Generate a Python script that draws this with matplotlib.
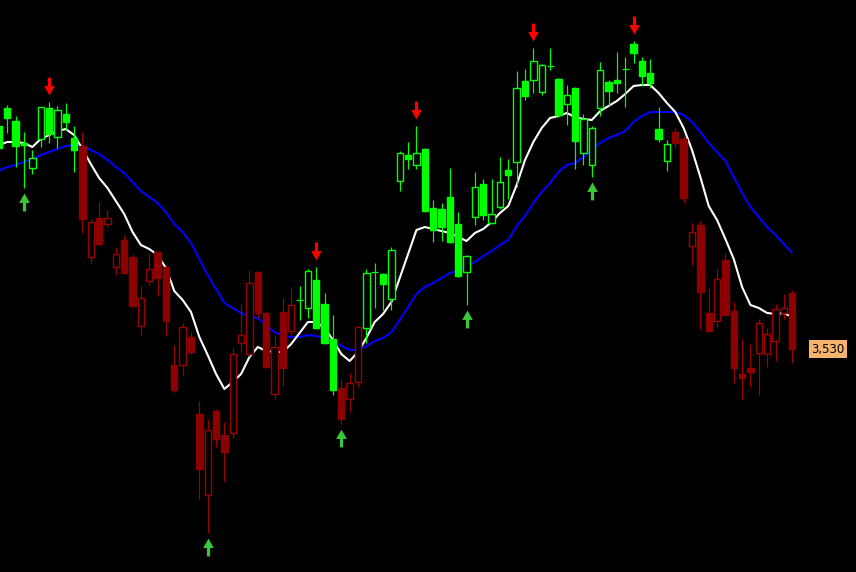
import matplotlib
matplotlib.use("Agg")
import matplotlib.pyplot as plt
from matplotlib.patches import Rectangle
from matplotlib.path import Path
import matplotlib.transforms as mtransforms

# ---------------- data (bar index starts at -1: first bar is partly off-screen)
first_bar = -1
opens = [3753, 3771, 3758, 3736, 3711, 3740, 3771, 3742, 3765, 3741,
         3733, 3622, 3661, 3655, 3612, 3639, 3622, 3553, 3598, 3627,
         3612, 3514, 3514, 3542, 3465, 3384, 3468, 3444, 3446, 3536,
         3525, 3607, 3566, 3485, 3567, 3548, 3579, 3571, 3599, 3575,
         3540, 3491, 3480, 3497, 3551, 3607, 3605, 3580, 3698, 3724,
         3714, 3730, 3671, 3670, 3682, 3655, 3607, 3662, 3695, 3656,
         3672, 3709, 3717, 3798, 3799, 3787, 3813, 3800, 3775, 3791,
         3726, 3714, 3771, 3797, 3799, 3810, 3835, 3818, 3806, 3750,
         3718, 3747, 3740, 3633, 3654, 3566, 3558, 3619, 3568, 3505,
         3511, 3526, 3525, 3538, 3566, 3586]
highs = [3755, 3774, 3763, 3747, 3729, 3772, 3777, 3773, 3776, 3753,
         3747, 3660, 3677, 3669, 3632, 3644, 3625, 3593, 3626, 3628,
         3613, 3534, 3556, 3547, 3478, 3460, 3470, 3457, 3531, 3575,
         3609, 3608, 3567, 3544, 3581, 3591, 3593, 3610, 3612, 3586,
         3564, 3500, 3506, 3553, 3610, 3616, 3606, 3632, 3728, 3737,
         3753, 3731, 3679, 3676, 3711, 3667, 3624, 3707, 3700, 3700,
         3722, 3720, 3808, 3810, 3831, 3815, 3831, 3801, 3794, 3792,
         3765, 3753, 3817, 3799, 3827, 3822, 3838, 3822, 3820, 3772,
         3739, 3751, 3743, 3656, 3658, 3591, 3610, 3626, 3577, 3540,
         3535, 3560, 3551, 3575, 3585, 3589]
lows = [3729, 3746, 3712, 3691, 3705, 3732, 3736, 3731, 3749, 3707,
        3646, 3616, 3634, 3652, 3604, 3605, 3572, 3544, 3594, 3583,
        3543, 3487, 3504, 3525, 3380, 3346, 3432, 3397, 3441, 3527,
        3523, 3561, 3511, 3480, 3493, 3544, 3559, 3561, 3550, 3535,
        3484, 3455, 3467, 3492, 3536, 3571, 3569, 3569, 3688, 3710,
        3710, 3667, 3637, 3638, 3636, 3602, 3574, 3654, 3659, 3655,
        3670, 3680, 3692, 3779, 3786, 3784, 3809, 3762, 3754, 3710,
        3714, 3702, 3763, 3773, 3786, 3772, 3816, 3793, 3791, 3737,
        3708, 3731, 3676, 3614, 3550, 3547, 3552, 3563, 3496, 3480,
        3492, 3484, 3512, 3518, 3560, 3516]
closes = [3731, 3761, 3733, 3734, 3721, 3772, 3745, 3769, 3757, 3729,
          3660, 3657, 3635, 3661, 3625, 3606, 3573, 3581, 3610, 3601,
          3558, 3489, 3552, 3527, 3410, 3449, 3440, 3427, 3525, 3544,
          3596, 3566, 3512, 3532, 3511, 3574, 3580, 3608, 3551, 3536,
          3489, 3460, 3496, 3552, 3606, 3608, 3595, 3629, 3726, 3720,
          3726, 3668, 3649, 3652, 3637, 3603, 3623, 3692, 3664, 3665,
          3697, 3704, 3791, 3783, 3818, 3814, 3814, 3764, 3784, 3738,
          3760, 3751, 3809, 3788, 3796, 3811, 3826, 3803, 3796, 3740,
          3735, 3736, 3681, 3647, 3587, 3548, 3600, 3564, 3511, 3501,
          3507, 3556, 3545, 3570, 3571, 3530]
# U = bar painted green (up-trend), D = bar painted red (down-trend)
trend = ("UUUUUUUUUU" "DDDDDDDDDDDDDDDDDDDDDDDDDD" "UUUUU" "DDD"
         "UUUUUUUUUUUUUUUUUUUUUUUUUUUUUUUUUUUUU" "DDDDDDDDDDDDDDD")
fast_ma = [3734, 3737, 3737, 3736, 3732, 3740, 3744, 3748, 3750, 3744,
           3730, 3715, 3701, 3691, 3678, 3665, 3647, 3634, 3630, 3624,
           3611, 3588, 3579, 3567, 3542, 3524, 3505, 3490, 3497, 3505,
           3522, 3532, 3528, 3527, 3527, 3535, 3546, 3557, 3557, 3551,
           3539, 3525, 3518, 3527, 3541, 3557, 3565, 3577, 3601, 3625,
           3649, 3652, 3650, 3648, 3646, 3642, 3638, 3646, 3650, 3657,
           3666, 3673, 3694, 3719, 3737, 3751, 3761, 3763, 3766, 3762,
           3760, 3759, 3768, 3773, 3778, 3785, 3793, 3794, 3794, 3786,
           3776, 3767, 3751, 3729, 3702, 3673, 3659, 3640, 3620, 3592,
           3574, 3571, 3566, 3565, 3566, 3562]
slow_ma = [3708, 3712, 3714, 3717, 3720, 3724, 3727, 3730, 3733, 3734,
           3733, 3729, 3725, 3719, 3712, 3706, 3697, 3688, 3682, 3676,
           3667, 3655, 3647, 3636, 3620, 3604, 3590, 3576, 3571, 3566,
           3562, 3561, 3554, 3547, 3543, 3542, 3542, 3544, 3543, 3541,
           3538, 3533, 3529, 3529, 3533, 3538, 3541, 3547, 3559, 3572,
           3585, 3592, 3596, 3601, 3606, 3608, 3613, 3617, 3623, 3628,
           3634, 3639, 3653, 3663, 3676, 3687, 3696, 3707, 3714, 3716,
           3722, 3729, 3736, 3741, 3744, 3748, 3757, 3763, 3767, 3767,
           3767, 3767, 3764, 3757, 3747, 3736, 3727, 3718, 3702, 3686,
           3672, 3662, 3652, 3644, 3635, 3626]
sell_bars = [5, 37, 49, 63, 75]
buy_bars = [2, 24, 40, 55, 70]

# ---------------- styling
BG = "black"
GREEN = "#00ff00"
RED_EDGE = "#9a0000"
RED_FILL = "#8c0000"
px = 0.72  # one pixel in points at dpi 100

fig = plt.figure(figsize=(8.56, 5.72), dpi=100, facecolor=BG)
ax = fig.add_axes([0, 0, 1, 1], facecolor=BG)
ax.set_xlim(-0.874, 101.64)
ax.set_ylim(3307, 3879)
ax.axis("off")

xs = [first_bar + k for k in range(len(closes))]

ax.plot(xs, slow_ma, color="#0000ff", lw=1.5, zorder=1, solid_capstyle="butt")
ax.plot(xs, fast_ma, color="white", lw=1.5, zorder=1, solid_capstyle="butt")

bw = 0.76
for x, o, h, l, c, t in zip(xs, opens, highs, lows, closes, trend):
    edge = GREEN if t == "U" else RED_EDGE
    fill = GREEN if t == "U" else RED_FILL
    ax.vlines(x, l, h, color=edge, lw=1.2 * px, zorder=2)
    if abs(c - o) <= 1:
        ax.hlines((o + c) / 2, x - 0.42, x + 0.42, color=edge,
                  lw=1.2 * px, zorder=3)
    elif c > o:
        ax.add_patch(Rectangle((x - bw / 2, o), bw, c - o, facecolor=BG,
                               edgecolor=edge, lw=1.4 * px, zorder=3))
    else:
        ax.add_patch(Rectangle((x - bw / 2, c), bw, o - c, facecolor=fill,
                               edgecolor=fill, lw=1.4 * px, zorder=3))

down_verts = [(-0.18, 1), (0.18, 1), (0.18, 0.05), (0.6, 0.05), (0, -1),
              (-0.6, 0.05), (-0.18, 0.05), (-0.18, 1)]
codes = [Path.MOVETO] + [Path.LINETO] * 6 + [Path.CLOSEPOLY]
down_arrow = Path(down_verts, codes)
up_arrow = Path([(vx, -vy) for vx, vy in down_verts], codes)

t_down = ax.transData + mtransforms.ScaledTranslation(0, 16 / 100, fig.dpi_scale_trans)
t_up = ax.transData + mtransforms.ScaledTranslation(0, -14 / 100, fig.dpi_scale_trans)
ax.plot([first_bar + 1 + b for b in sell_bars],
        [highs[b + 1] for b in sell_bars], linestyle="none",
        marker=down_arrow, markersize=12.8, color="#ff0000", mec="none",
        transform=t_down, zorder=4)
ax.plot([first_bar + 1 + b for b in buy_bars],
        [lows[b + 1] for b in buy_bars], linestyle="none",
        marker=up_arrow, markersize=12.8, color="#3ac83a", mec="none",
        transform=t_up, zorder=4)

label_tr = mtransforms.blended_transform_factory(ax.transAxes, ax.transData)
ax.text(0.967, closes[-1], f"{closes[-1]:,.0f}", transform=label_tr,
        ha="center", va="center", fontsize=8.5, color="black",
        family="DejaVu Sans",
        bbox=dict(boxstyle="square,pad=0.18", fc="#f5b36e", ec="none"))

fig.savefig("out.png", dpi=100, facecolor=BG)
